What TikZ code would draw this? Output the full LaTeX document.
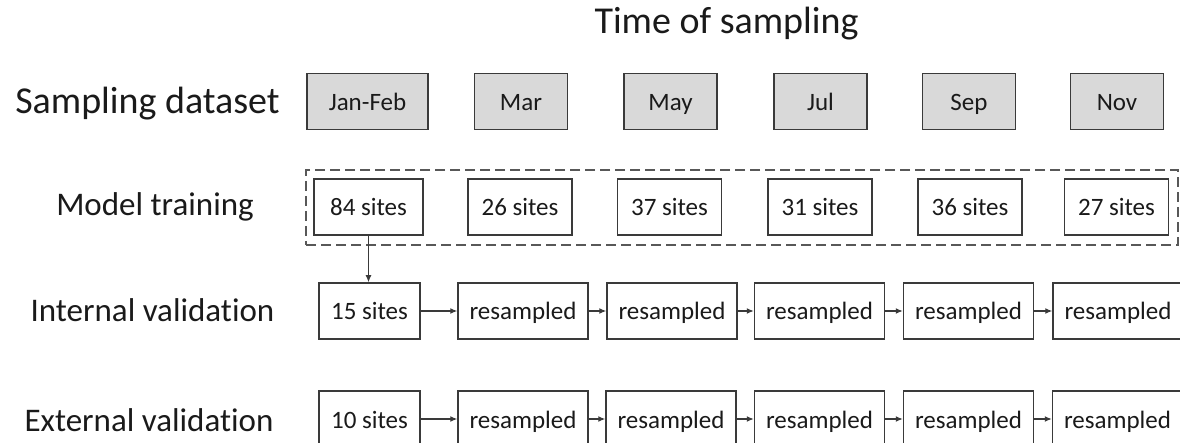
\documentclass[tikz,border=0pt]{standalone}
\usepackage{fontspec}
\setmainfont{Carlito}[Ligatures=NoCommon,Contextuals=NoAlternate]
\usetikzlibrary{arrows.meta}
\definecolor{ink}{HTML}{1A1A1A}
\definecolor{edgec}{HTML}{3A3A3A}
\definecolor{grayfill}{HTML}{D9D9D9}
\begin{document}
\begin{tikzpicture}[x=1pt,y=-1pt,
 box/.style={draw=edgec, line width=1.5pt, rectangle, inner sep=0pt, minimum height=56pt,
   font=\fontsize{25}{30}\selectfont, text=ink, text height=18pt, text depth=0pt},
 month/.style={box, fill=grayfill, minimum width=93pt},
 sitebox/.style={box, fill=white, minimum width=104pt},
 resbox/.style={box, fill=white, minimum width=130pt},
 rowlabel/.style={anchor=base, font=\fontsize{33}{40}\selectfont, text=ink, inner sep=0pt},
 biglabel/.style={anchor=base, font=\fontsize{38}{44}\selectfont, text=ink, inner sep=0pt},
 arr/.style={draw=edgec, line width=1.2pt, -{Latex[length=7pt,width=6pt]}},
 dashgroup/.style={draw=edgec!85, dash pattern=on 10pt off 5pt, line width=1.8pt, inner sep=0pt}
]
\useasboundingbox (0,0) rectangle (1180,443);
\clip (0,0) rectangle (1180,443);

% title and row labels
\node[biglabel] (title) at (726.5,34) {Time of sampling};
\node[biglabel] (lsd) at (147.5,114) {Sampling dataset};
\node[rowlabel] (lmt) at (155,216) {Model training};
\node[rowlabel] (liv) at (152.5,322) {Internal valida{}tion};
\node[rowlabel] (lev) at (149,431) {External valida{}tion};

% sampling dataset row
\node[month, minimum width=121pt] (g1) at (367.5,101.5) {Jan-Feb};
\node[month] (g2) at (521,101.5) {Mar};
\node[month] (g3) at (670.5,101.5) {May};
\node[month] (g4) at (820.5,101.5) {Jul};
\node[month] (g5) at (969,101.5) {Sep};
\node[month] (g6) at (1117,101.5) {Nov};

% model training group
\node[dashgroup, minimum width=872pt, minimum height=75pt] (mt) at (742,207.5) {};
\node[sitebox, minimum width=109pt] (m1) at (368.5,207) {84 sites};
\node[sitebox] (m2) at (520,207) {26 sites};
\node[sitebox] (m3) at (669.5,207) {37 sites};
\node[sitebox] (m4) at (820,207) {31 sites};
\node[sitebox] (m5) at (970,207) {36 sites};
\node[sitebox] (m6) at (1116.5,207) {27 sites};

% internal validation
\node[sitebox, minimum width=101pt] (i1) at (369.5,311) {15 sites};
\node[resbox] (i2) at (523,311) {resampled};
\node[resbox] (i3) at (672,311) {resampled};
\node[resbox] (i4) at (819.5,311) {resampled};
\node[resbox] (i5) at (968.5,311) {resampled};
\node[resbox] (i6) at (1118,311) {resampled};

% external validation
\node[sitebox, minimum width=101pt] (e1) at (369.5,419) {10 sites};
\node[resbox] (e2) at (523,419) {resampled};
\node[resbox] (e3) at (671,419) {resampled};
\node[resbox] (e4) at (819.5,419) {resampled};
\node[resbox] (e5) at (968.5,419) {resampled};
\node[resbox] (e6) at (1117.5,419) {resampled};

% connectors
\draw[arr] (m1.south) -- (m1.south |- i1.north);
\foreach \a/\b in {i1/i2,i2/i3,i3/i4,i4/i5,i5/i6,e1/e2,e2/e3,e3/e4,e4/e5,e5/e6}
  \draw[arr] (\a) -- (\b);
\end{tikzpicture}
\end{document}
